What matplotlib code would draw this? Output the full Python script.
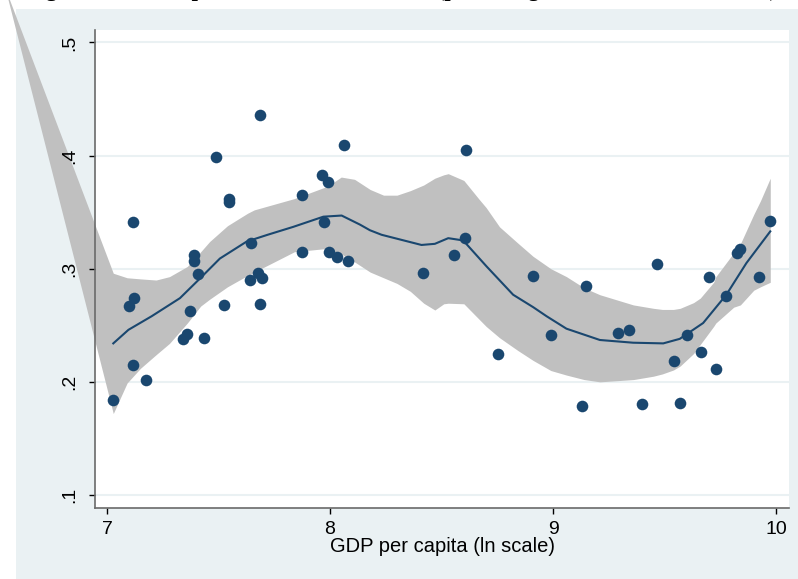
import matplotlib.pyplot as plt
from matplotlib.patches import Rectangle

# scatter points (ln GDP per capita, share)
gdp = [7.028, 7.097, 7.122, 7.115, 7.115, 7.173, 7.341, 7.360, 7.373, 7.391,
       7.389, 7.407, 7.435, 7.489, 7.548, 7.548, 7.526, 7.644, 7.641, 7.677,
       7.693, 7.686, 7.686, 7.875, 7.875, 7.964, 7.992, 7.973, 7.995, 8.032,
       8.082, 8.064, 8.418, 8.554, 8.603, 8.608, 8.751, 8.908, 8.993, 9.146,
       9.128, 9.289, 9.342, 9.467, 9.397, 9.567, 9.541, 9.600, 9.662, 9.698,
       9.730, 9.777, 9.825, 9.840, 9.924, 9.975]
share = [0.184, 0.267, 0.274, 0.341, 0.215, 0.202, 0.238, 0.242, 0.263, 0.312,
         0.307, 0.295, 0.239, 0.399, 0.362, 0.359, 0.268, 0.323, 0.290, 0.296,
         0.292, 0.269, 0.436, 0.365, 0.315, 0.383, 0.377, 0.341, 0.315, 0.310,
         0.307, 0.409, 0.296, 0.312, 0.327, 0.405, 0.225, 0.294, 0.241, 0.285,
         0.179, 0.243, 0.246, 0.304, 0.180, 0.181, 0.218, 0.241, 0.226, 0.293,
         0.211, 0.276, 0.314, 0.317, 0.293, 0.342]

# local polynomial fit
fit_x = [7.028, 7.096, 7.2, 7.327, 7.42, 7.506, 7.626, 7.72, 7.835, 7.97,
         8.052, 8.134, 8.179, 8.231, 8.41, 8.47, 8.53, 8.597, 8.702, 8.821,
         8.911, 8.971, 9.06, 9.21, 9.359, 9.494, 9.568, 9.673, 9.777, 9.867, 9.974]
fit_y = [0.234, 0.246, 0.258, 0.274, 0.292, 0.309, 0.324, 0.330, 0.337, 0.346,
         0.347, 0.339, 0.334, 0.330, 0.321, 0.322, 0.327, 0.325, 0.302, 0.277,
         0.266, 0.258, 0.247, 0.237, 0.2346, 0.234, 0.238, 0.252, 0.277, 0.305, 0.333]

# confidence band (first point is the stray vertex outside the plot)
ci_x = [6.543, 7.028, 7.09, 7.15, 7.22, 7.28, 7.36, 7.42, 7.46, 7.54, 7.63, 7.66,
        7.84, 7.99, 8.05, 8.11, 8.18, 8.24, 8.30, 8.36, 8.42, 8.47, 8.51, 8.53,
        8.60, 8.67, 8.70, 8.76, 8.84, 8.91, 8.99, 9.06, 9.14, 9.21, 9.36, 9.45,
        9.49, 9.54, 9.57, 9.63, 9.66, 9.72, 9.73, 9.81, 9.84, 9.90, 9.93, 9.974]
ci_hi = [0.548, 0.296, 0.292, 0.291, 0.290, 0.293, 0.302, 0.315, 0.324, 0.338, 0.349, 0.352,
         0.362, 0.373, 0.381, 0.379, 0.370, 0.365, 0.365, 0.369, 0.374, 0.380, 0.383, 0.384,
         0.378, 0.361, 0.354, 0.337, 0.323, 0.311, 0.300, 0.293, 0.283, 0.277, 0.268, 0.265,
         0.264, 0.264, 0.265, 0.270, 0.274, 0.288, 0.293, 0.314, 0.322, 0.348, 0.360, 0.380]
ci_lo = [0.548, 0.172, 0.199, 0.212, 0.224, 0.234, 0.252, 0.267, 0.273, 0.284, 0.294, 0.297,
         0.315, 0.318, 0.313, 0.306, 0.297, 0.292, 0.287, 0.280, 0.2695, 0.2635, 0.269, 0.2695,
         0.269, 0.255, 0.249, 0.239, 0.228, 0.219, 0.210, 0.206, 0.202, 0.200, 0.202, 0.205,
         0.207, 0.2105, 0.214, 0.225, 0.233, 0.249, 0.252, 0.266, 0.268, 0.281, 0.284, 0.288]

xticks = [7, 8, 9, 10]
yticks = [0.1, 0.2, 0.3, 0.4, 0.5]
ytick_labels = ['.1', '.2', '.3', '.4', '.5']

# page caption above the graph, almost entirely cut off by the crop
caption = 'Figure 11: The top income share and GDP (percentage of the national income)'

bg = '#EAF1F3'
navy = '#1A476F'

plt.rcParams['font.family'] = ['Liberation Sans', 'DejaVu Sans']

fig = plt.figure(figsize=(7.98, 5.79), dpi=100, facecolor='white')
# shaded graph region (white strip left and top)
fig.patches.append(Rectangle((16 / 798, 0), 1, 1 - 9 / 579, transform=fig.transFigure,
                             facecolor=bg, edgecolor='none', zorder=-5))

fig.text(25.5 / 798, 1 - 1 / 579, caption, family='Liberation Serif', weight='bold',
         fontsize=16.3, va='bottom', ha='left')

ax = fig.add_axes([95 / 798, 1 - 508 / 579, 694 / 798, 478 / 579])
ax.set_facecolor('white')

# grid lines under the band, tick labels above it
for yv in yticks:
    ax.axhline(yv, color=bg, linewidth=1.5, zorder=0.5)
ax.fill_between(ci_x, ci_lo, ci_hi, color='#C0C0C0', linewidth=0, clip_on=False, zorder=1)
ax.plot(fit_x, fit_y, color=navy, linewidth=1.5, zorder=2)
ax.scatter(gdp, share, s=70, color=navy, linewidths=0, zorder=3)

ax.set_xlim(6.946, 10.058)
ax.set_ylim(0.0885, 0.511)
ax.set_xticks(xticks)
ax.set_xticklabels([str(t) for t in xticks])
ax.set_yticks(yticks)
ax.set_yticklabels(ytick_labels, rotation=90, va='center')

ax.set_axisbelow('line')
for side in ['top', 'right']:
    ax.spines[side].set_visible(False)
for side in ['left', 'bottom']:
    ax.spines[side].set_color('#6A6A6A')
    ax.spines[side].set_linewidth(1.2)
ax.tick_params(axis='both', direction='out', length=4, width=1, color='black', labelsize=14)
ax.tick_params(axis='y', pad=8)
ax.tick_params(axis='x', pad=5)

ax.set_xlabel('GDP per capita (ln scale)', fontsize=14.5, labelpad=0)

fig.savefig('out.png', dpi=100, facecolor=fig.get_facecolor())
